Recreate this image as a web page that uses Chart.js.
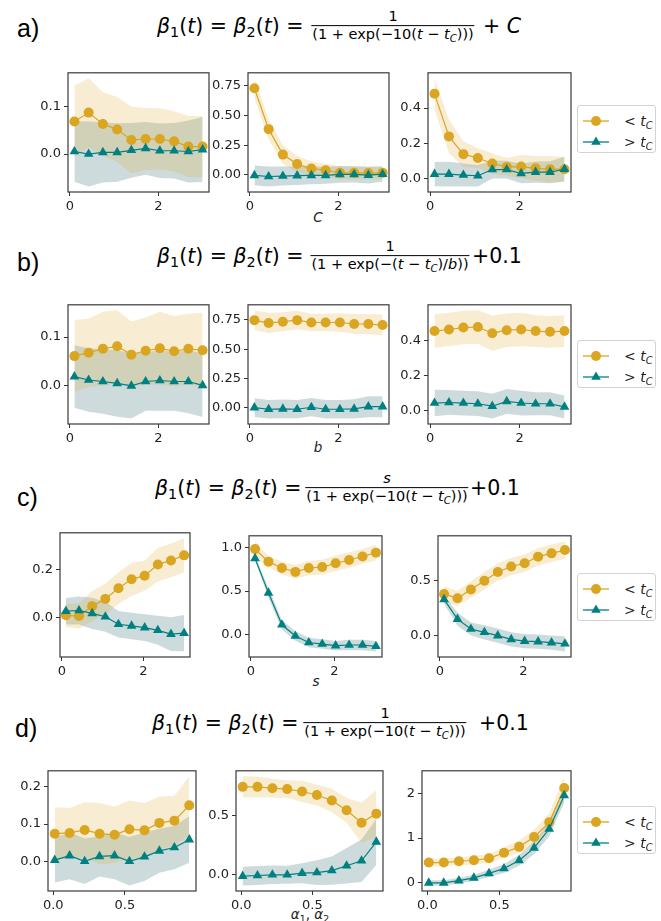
<!DOCTYPE html>
<html><head><meta charset="utf-8">
<script src="https://cdn.jsdelivr.net/npm/chart.js@4.4.1/dist/chart.umd.min.js"></script>
<style>
html,body{margin:0;padding:0;background:#fff}
body{width:661px;height:921px;position:relative;overflow:hidden;font-family:"DejaVu Sans",sans-serif;color:#000}
.pl{position:absolute;font-family:"Liberation Sans",Arial,sans-serif;font-size:25px;line-height:1;transform:translateY(-50%)}
.t{position:absolute;font-size:20.5px;line-height:1.2;white-space:nowrap;transform:translateY(-50%)}
.fr{position:absolute;font-size:14.5px;line-height:1.2;white-space:nowrap;transform:translate(-50%,-50%);display:flex;flex-direction:column;align-items:center}
.fr .den{border-top:1.3px solid #000;padding:0 1px}
sub{font-size:70%;vertical-align:-0.3em;line-height:0}
.xl{position:absolute;font-size:13.5px;line-height:1;transform:translate(-50%,-50%);white-space:nowrap;color:#222}
.lg{position:absolute;width:79px;height:48px;border:1px solid #d3d3d3;border-radius:3px;background:#fff;box-sizing:border-box}
.lg svg{position:absolute;left:3px;top:0}
.lg span{position:absolute;left:46px;font-size:14px;line-height:1;transform:translateY(-50%);color:#222;white-space:nowrap}
canvas{position:absolute}
</style></head><body>

<div class="pl" style="left:17px;top:28px">a)</div>
<div class="t" style="left:157px;top:26px"><i>β</i><sub>1</sub>(<i>t</i>) = <i>β</i><sub>2</sub>(<i>t</i>) =</div>
<div class="fr" style="left:393px;top:26px"><span>1</span><span class="den">(1 + exp(−10(<i>t</i> − <i>t</i><sub><i>C</i></sub>)))</span></div>
<div class="t" style="left:483px;top:26px">+ <i>C</i></div>

<div class="pl" style="left:17px;top:262px">b)</div>
<div class="t" style="left:157px;top:256px"><i>β</i><sub>1</sub>(<i>t</i>) = <i>β</i><sub>2</sub>(<i>t</i>) =</div>
<div class="fr" style="left:390px;top:256px"><span>1</span><span class="den">(1 + exp(−(<i>t</i> − <i>t</i><sub><i>C</i></sub>)/<i>b</i>))</span></div>
<div class="t" style="left:472px;top:256px">+0.1</div>

<div class="pl" style="left:17px;top:497px">c)</div>
<div class="t" style="left:155px;top:488px"><i>β</i><sub>1</sub>(<i>t</i>) = <i>β</i><sub>2</sub>(<i>t</i>) =</div>
<div class="fr" style="left:387px;top:488px"><span><i>s</i></span><span class="den">(1 + exp(−10(<i>t</i> − <i>t</i><sub><i>C</i></sub>)))</span></div>
<div class="t" style="left:470px;top:488px">+0.1</div>

<div class="pl" style="left:15px;top:728px">d)</div>
<div class="t" style="left:152px;top:723px"><i>β</i><sub>1</sub>(<i>t</i>) = <i>β</i><sub>2</sub>(<i>t</i>) =</div>
<div class="fr" style="left:385px;top:723px"><span>1</span><span class="den">(1 + exp(−10(<i>t</i> − <i>t</i><sub><i>C</i></sub>)))</span></div>
<div class="t" style="left:479px;top:723px">+0.1</div>

<div class="xl" style="left:318px;top:218px"><i>C</i></div>
<div class="xl" style="left:318px;top:448px"><i>b</i></div>
<div class="xl" style="left:316px;top:682px"><i>s</i></div>
<div class="xl" style="left:310px;top:915px"><i>α</i><sub>1</sub>, <i>α</i><sub>2</sub></div>

<script>
// ---------- data ----------
const xABC = [0.1, 0.422, 0.744, 1.067, 1.389, 1.711, 2.033, 2.356, 2.678, 3.0];
const xD   = [0.01, 0.114, 0.219, 0.323, 0.428, 0.532, 0.637, 0.741, 0.846, 0.95];
const xTicksABC = ['0', '2'];
const xTicksD   = ['0.0', '0.5'];
const legendLabels = ['< t_C', '> t_C'];

// row a
const a1Below   = [0.069, 0.088, 0.064, 0.052, 0.030, 0.032, 0.032, 0.027, 0.016, 0.016];
const a1BelowSd = [0.076, 0.073, 0.068, 0.069, 0.071, 0.066, 0.065, 0.064, 0.065, 0.065];
const a1Above   = [0.0055, 0.0, 0.0035, 0.0035, 0.008, 0.012, 0.007, 0.007, 0.0055, 0.0095];
const a1AboveSd = [0.064, 0.069, 0.064, 0.062, 0.058, 0.056, 0.058, 0.059, 0.066, 0.069];
const a1YTicks  = ['0.0', '0.1'];

const a2Below   = [0.73, 0.385, 0.17, 0.09, 0.052, 0.038, 0.016, 0.016, 0.014, 0.016];
const a2BelowSd = [0.085, 0.085, 0.08, 0.068, 0.06, 0.055, 0.055, 0.055, 0.055, 0.055];
const a2Above   = [-0.005, -0.015, -0.011, -0.008, -0.005, -0.005, 0.003, 0.003, -0.003, 0.005];
const a2AboveSd = [0.083, 0.085, 0.08, 0.078, 0.075, 0.072, 0.07, 0.068, 0.07, 0.065];
const a2YTicks  = ['0.00', '0.25', '0.50', '0.75'];

const a3Below   = [0.48, 0.24, 0.14, 0.118, 0.087, 0.068, 0.07, 0.06, 0.055, 0.055];
const a3BelowSd = [0.088, 0.095, 0.072, 0.055, 0.058, 0.05, 0.065, 0.07, 0.075, 0.07];
const a3Above   = [0.027, 0.027, 0.022, 0.018, 0.053, 0.053, 0.031, 0.038, 0.038, 0.055];
const a3AboveSd = [0.068, 0.07, 0.065, 0.06, 0.05, 0.05, 0.055, 0.06, 0.062, 0.07];
const a3YTicks  = ['0.0', '0.2', '0.4'];

// row b
const b1Below   = [0.061, 0.068, 0.076, 0.081, 0.064, 0.072, 0.077, 0.071, 0.076, 0.073];
const b1BelowSd = [0.074, 0.07, 0.076, 0.074, 0.068, 0.068, 0.075, 0.072, 0.072, 0.077];
const b1Above   = [0.019, 0.012, 0.009, 0.005, 0.0, 0.009, 0.011, 0.009, 0.009, 0.001];
const b1AboveSd = [0.064, 0.065, 0.066, 0.068, 0.067, 0.06, 0.062, 0.06, 0.065, 0.065];
const b1YTicks  = ['0.0', '0.1'];

const b2Below   = [0.748, 0.723, 0.735, 0.748, 0.728, 0.728, 0.728, 0.715, 0.715, 0.706];
const b2BelowSd = [0.085, 0.088, 0.08, 0.08, 0.075, 0.075, 0.08, 0.085, 0.085, 0.09];
const b2Above   = [0.0, -0.014, -0.011, -0.014, 0.003, -0.014, -0.014, -0.011, 0.008, 0.008];
const b2AboveSd = [0.08, 0.08, 0.08, 0.078, 0.078, 0.08, 0.08, 0.082, 0.09, 0.09];
const b2YTicks  = ['0.00', '0.25', '0.50', '0.75'];

const b3Below   = [0.452, 0.461, 0.472, 0.475, 0.44, 0.457, 0.461, 0.452, 0.448, 0.452];
const b3BelowSd = [0.095, 0.095, 0.095, 0.095, 0.1, 0.095, 0.095, 0.09, 0.09, 0.09];
const b3Above   = [0.045, 0.048, 0.045, 0.041, 0.027, 0.054, 0.045, 0.041, 0.041, 0.023];
const b3AboveSd = [0.075, 0.07, 0.07, 0.07, 0.07, 0.07, 0.07, 0.065, 0.065, 0.065];
const b3YTicks  = ['0.0', '0.2', '0.4'];

// row c
const c1Below   = [0.01, 0.007, 0.048, 0.078, 0.122, 0.159, 0.174, 0.22, 0.237, 0.258];
const c1BelowSd = [0.048, 0.052, 0.063, 0.064, 0.065, 0.068, 0.062, 0.07, 0.07, 0.07];
const c1Above   = [0.027, 0.03, 0.018, 0.004, -0.027, -0.034, -0.041, -0.052, -0.068, -0.064];
const c1AboveSd = [0.055, 0.058, 0.065, 0.062, 0.055, 0.055, 0.055, 0.06, 0.07, 0.075];
const c1YTicks  = ['0.0', '0.2'];

const c2Below   = [0.985, 0.84, 0.767, 0.722, 0.767, 0.778, 0.822, 0.859, 0.9, 0.944];
const c2BelowSd = [0.09, 0.065, 0.075, 0.08, 0.085, 0.085, 0.09, 0.09, 0.085, 0.09];
const c2Above   = [0.878, 0.48, 0.111, -0.0185, -0.093, -0.111, -0.13, -0.122, -0.122, -0.137];
const c2AboveSd = [0.03, 0.055, 0.055, 0.055, 0.055, 0.055, 0.055, 0.06, 0.06, 0.06];
const c2YTicks  = ['0.0', '0.5', '1.0'];

const c3Below   = [0.38, 0.34, 0.42, 0.50, 0.58, 0.63, 0.66, 0.72, 0.75, 0.78];
const c3BelowSd = [0.07, 0.07, 0.075, 0.08, 0.08, 0.08, 0.08, 0.08, 0.08, 0.08];
const c3Above   = [0.33, 0.15, 0.06, 0.03, 0.0, -0.035, -0.05, -0.055, -0.065, -0.075];
const c3AboveSd = [0.04, 0.06, 0.06, 0.065, 0.065, 0.065, 0.065, 0.065, 0.065, 0.07];
const c3YTicks  = ['0.0', '0.5'];

// row d
const d1Below   = [0.074, 0.076, 0.084, 0.074, 0.071, 0.086, 0.083, 0.103, 0.109, 0.15];
const d1BelowSd = [0.071, 0.067, 0.074, 0.082, 0.076, 0.077, 0.073, 0.07, 0.067, 0.078];
const d1Above   = [0.003, 0.015, 0.0, 0.013, 0.015, 0.0, 0.012, 0.028, 0.037, 0.058];
const d1AboveSd = [0.06, 0.063, 0.061, 0.054, 0.063, 0.065, 0.065, 0.059, 0.058, 0.062];
const d1YTicks  = ['0.0', '0.1', '0.2'];

const d2Below   = [0.746, 0.746, 0.735, 0.727, 0.707, 0.677, 0.63, 0.547, 0.442, 0.519];
const d2BelowSd = [0.09, 0.088, 0.08, 0.075, 0.09, 0.09, 0.1, 0.105, 0.17, 0.2];
const d2Above   = [-0.011, -0.006, 0.0, 0.0, 0.014, 0.019, 0.036, 0.077, 0.119, 0.279];
const d2AboveSd = [0.08, 0.08, 0.078, 0.076, 0.085, 0.105, 0.12, 0.15, 0.18, 0.195];
const d2YTicks  = ['0.0', '0.5'];

const d3Below   = [0.453, 0.453, 0.482, 0.504, 0.547, 0.672, 0.803, 1.022, 1.35, 2.117];
const d3BelowSd = [0.09, 0.09, 0.085, 0.1, 0.1, 0.12, 0.14, 0.16, 0.2, 0.26];
const d3Above   = [0.0, 0.0, 0.05, 0.11, 0.21, 0.32, 0.5, 0.78, 1.2, 1.95];
const d3AboveSd = [0.06, 0.06, 0.065, 0.07, 0.08, 0.1, 0.12, 0.14, 0.16, 0.16];
const d3YTicks  = ['0', '1', '2'];

// ---------- drawing ----------
const COL_BELOW = '#DAA520', COL_ABOVE = '#008080';
const BAND_BELOW = 'rgba(218,165,32,0.2)', BAND_ABOVE = 'rgba(30,90,100,0.22)';
const TICK_FONT = {family: 'DejaVu Sans', size: 13};

const framePlugin = {
  id: 'frame',
  afterDraw(ch) {
    const {ctx, chartArea: a} = ch;
    ctx.save();
    ctx.strokeStyle = '#3a3a3a';
    ctx.lineWidth = 1.2;
    ctx.strokeRect(a.left, a.top, a.right - a.left, a.bottom - a.top);
    ctx.restore();
  }
};

function labelFor(list) {
  return v => {
    const s = list.find(t => Math.abs(parseFloat(t) - v) < 1e-9);
    return s === undefined ? '' : s;
  };
}

function panel(box, xs, xt, yt, below, belowSd, above, aboveSd) {
  const PL = 46, PT = 8, PR = 8, PB = 26;
  const [l, t, r, b] = box;
  const W = r - l + PL + PR, H = b - t + PT + PB;
  const cv = document.createElement('canvas');
  cv.width = W; cv.height = H;
  cv.style.left = (l - PL) + 'px'; cv.style.top = (t - PT) + 'px';
  cv.style.width = W + 'px'; cv.style.height = H + 'px';
  document.body.appendChild(cv);

  const pts = (m, s, k) => m.map((v, i) => ({x: xs[i], y: v + k * (s ? s[i] : 0)}));
  const allY = [...pts(below, belowSd, 1), ...pts(below, belowSd, -1), ...pts(above, aboveSd, 1), ...pts(above, aboveSd, -1)].map(p => p.y);
  const yLo = Math.min(...allY), yHi = Math.max(...allY), yPad = 0.05 * (yHi - yLo);
  const xLo = Math.min(...xs), xHi = Math.max(...xs), xPad = 0.05 * (xHi - xLo);
  const noLine = {borderColor: 'rgba(0,0,0,0)', borderWidth: 0, pointRadius: 0, pointHoverRadius: 0, tension: 0};

  new Chart(cv, {
    type: 'line',
    data: {datasets: [
      {...noLine, data: pts(below, belowSd, 1), fill: '+1', backgroundColor: BAND_BELOW, order: 4},
      {...noLine, data: pts(below, belowSd, -1), fill: false, order: 3},
      {...noLine, data: pts(above, aboveSd, 1), fill: '+1', backgroundColor: BAND_ABOVE, order: 6},
      {...noLine, data: pts(above, aboveSd, -1), fill: false, order: 5},
      {data: pts(below, null, 0), borderColor: COL_BELOW, backgroundColor: COL_BELOW, borderWidth: 1.2,
       pointStyle: 'circle', pointRadius: 5, pointHoverRadius: 5, pointBorderWidth: 0, fill: false, tension: 0, order: 2, clip: false},
      {data: pts(above, null, 0), borderColor: COL_ABOVE, backgroundColor: COL_ABOVE, borderWidth: 1.2,
       pointStyle: 'triangle', pointRadius: 5.6, pointHoverRadius: 5.6, pointBorderWidth: 0, fill: false, tension: 0, order: 1, clip: false}
    ]},
    options: {
      responsive: false, animation: false, devicePixelRatio: 1, events: [],
      layout: {padding: {left: 0, top: PT, right: PR, bottom: 0}},
      plugins: {legend: {display: false}, tooltip: {enabled: false}},
      scales: {
        x: {
          type: 'linear', min: xLo - xPad, max: xHi + xPad,
          afterFit(s) { s.height = PB; },
          afterBuildTicks(s) { s.ticks = xt.map(v => ({value: parseFloat(v)})); },
          ticks: {autoSkip: false, maxRotation: 0, padding: 3, color: '#222', font: TICK_FONT, callback: labelFor(xt)},
          grid: {display: true, drawOnChartArea: false, drawTicks: true, tickLength: 4, color: '#333', lineWidth: 1},
          border: {display: false}
        },
        y: {
          type: 'linear', min: yLo - yPad, max: yHi + yPad,
          afterFit(s) { s.width = PL; },
          afterBuildTicks(s) { s.ticks = yt.map(v => ({value: parseFloat(v)})); },
          ticks: {autoSkip: false, padding: 3, color: '#222', font: TICK_FONT, callback: labelFor(yt)},
          grid: {display: true, drawOnChartArea: false, drawTicks: true, tickLength: 4, color: '#333', lineWidth: 1},
          border: {display: false}
        }
      }
    },
    plugins: [framePlugin]
  });
}

function legend(left, top) {
  const fmt = s => { const [op, v] = s.split(' '); const [base, sub] = v.split('_');
    return (op === '<' ? '&lt;' : '&gt;') + ' <i>' + base + '</i><sub><i>' + sub + '</i></sub>'; };
  const d = document.createElement('div');
  d.className = 'lg'; d.style.left = left + 'px'; d.style.top = top + 'px';
  d.innerHTML =
    '<svg width="36" height="46">' +
    '<line x1="2" y1="15" x2="28" y2="15" stroke="' + COL_BELOW + '" stroke-width="1.3"/>' +
    '<circle cx="15" cy="15" r="5" fill="' + COL_BELOW + '"/>' +
    '<line x1="2" y1="36" x2="28" y2="36" stroke="' + COL_ABOVE + '" stroke-width="1.3"/>' +
    '<polygon points="15,30.4 19.8,38.8 10.2,38.8" fill="' + COL_ABOVE + '"/></svg>' +
    '<span style="top:15px">' + fmt(legendLabels[0]) + '</span>' +
    '<span style="top:36px">' + fmt(legendLabels[1]) + '</span>';
  document.body.appendChild(d);
}

// row a
panel([68, 70, 209, 192], xABC, xTicksABC, a1YTicks, a1Below, a1BelowSd, a1Above, a1AboveSd);
panel([248, 70, 389, 192], xABC, xTicksABC, a2YTicks, a2Below, a2BelowSd, a2Above, a2AboveSd);
panel([428, 70, 571, 192], xABC, xTicksABC, a3YTicks, a3Below, a3BelowSd, a3Above, a3AboveSd);
legend(577, 105);
// row b
panel([68, 302, 209, 424], xABC, xTicksABC, b1YTicks, b1Below, b1BelowSd, b1Above, b1AboveSd);
panel([248, 302, 389, 424], xABC, xTicksABC, b2YTicks, b2Below, b2BelowSd, b2Above, b2AboveSd);
panel([428, 302, 571, 424], xABC, xTicksABC, b3YTicks, b3Below, b3BelowSd, b3Above, b3AboveSd);
legend(577, 340);
// row c
panel([60, 530, 190, 657], xABC, xTicksABC, c1YTicks, c1Below, c1BelowSd, c1Above, c1AboveSd);
panel([249, 533, 382, 657], xABC, xTicksABC, c2YTicks, c2Below, c2BelowSd, c2Above, c2AboveSd);
panel([438, 533, 571, 657], xABC, xTicksABC, c3YTicks, c3Below, c3BelowSd, c3Above, c3AboveSd);
legend(577, 573);
// row d
panel([48, 768, 196, 891], xD, xTicksD, d1YTicks, d1Below, d1BelowSd, d1Above, d1AboveSd);
panel([236, 768, 383, 891], xD, xTicksD, d2YTicks, d2Below, d2BelowSd, d2Above, d2AboveSd);
panel([422, 768, 571, 891], xD, xTicksD, d3YTicks, d3Below, d3BelowSd, d3Above, d3AboveSd);
legend(577, 806);
</script>
</body></html>
